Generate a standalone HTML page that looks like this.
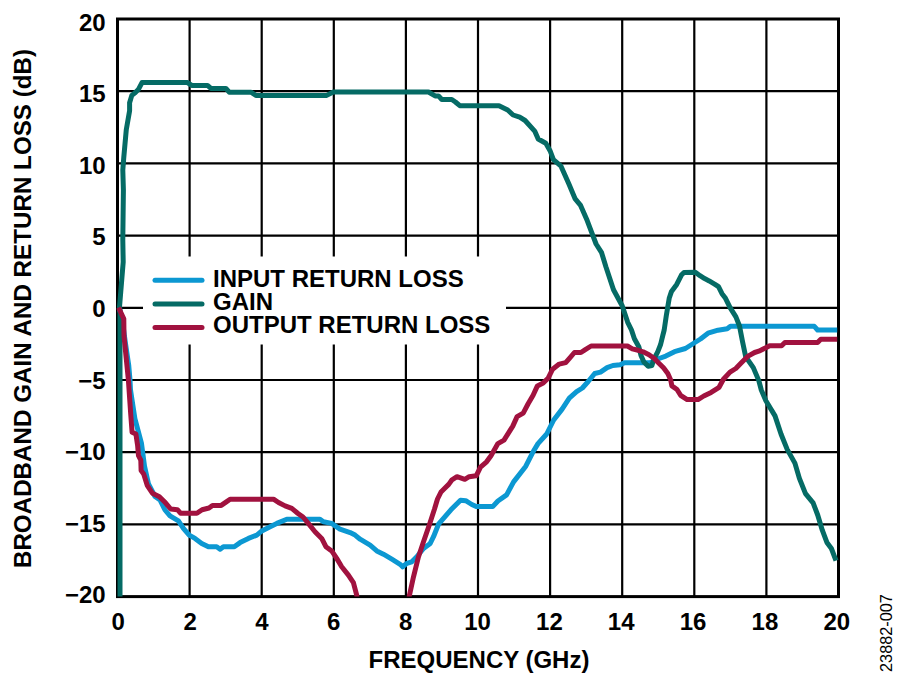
<!DOCTYPE html><html><head><meta charset="utf-8"><style>html,body{margin:0;padding:0;background:#fff;width:899px;height:689px;overflow:hidden}svg{display:block}text{font-family:"Liberation Sans",sans-serif;font-weight:bold;fill:#000}</style></head><body>
<svg width="899" height="689" viewBox="0 0 899 689">
<defs><clipPath id="pc"><rect x="116.5" y="18.0" width="723.0" height="578.6"/></clipPath></defs>
<path d="M189.6 19.0V596.6 M261.7 19.0V596.6 M333.8 19.0V596.6 M405.9 19.0V596.6 M478.0 19.0V596.6 M550.1 19.0V596.6 M622.2 19.0V596.6 M694.3 19.0V596.6 M766.4 19.0V596.6 M117.5 91.2H838.5 M117.5 163.4H838.5 M117.5 235.6H838.5 M117.5 307.8H838.5 M117.5 380.0H838.5 M117.5 452.2H838.5 M117.5 524.4H838.5" stroke="#000" stroke-width="2.2" fill="none"/>
<rect x="143" y="256.5" width="363" height="88" fill="#fff"/>
<rect x="117.5" y="19.0" width="721.0" height="577.6" stroke="#000" stroke-width="3" fill="none"/>
<path d="M119.0 308.0 L122.0 318.0 L125.5 343.5 L128.7 365.0 L130.0 380.0 L130.5 390.0 L134.9 418.7 L141.5 443.5 L144.5 466.0 L148.5 484.0 L155.0 496.5 L160.0 500.0 L165.0 510.0 L170.0 515.9 L178.4 520.9 L183.4 528.4 L189.2 535.1 L195.0 538.4 L201.7 543.4 L208.4 546.7 L216.7 546.7 L220.1 549.2 L223.4 546.7 L234.3 546.7 L240.1 542.6 L248.4 538.4 L256.8 535.1 L261.8 530.9 L270.1 526.7 L276.8 523.4 L286.8 519.2 L320.0 519.2 L323.4 521.7 L331.7 523.4 L340.0 529.2 L350.1 532.6 L355.1 535.1 L360.1 539.2 L370.1 545.1 L376.8 550.9 L383.4 554.2 L391.8 559.2 L400.1 564.3 L402.6 566.8 L406.8 563.4 L411.8 561.8 L416.8 556.7 L423.5 548.4 L430.2 543.4 L433.5 536.7 L438.5 524.2 L443.5 518.4 L450.9 509.8 L460.5 500.2 L465.7 500.7 L471.8 504.5 L476.2 506.6 L492.7 506.6 L497.9 501.0 L506.6 494.9 L513.6 481.9 L525.8 466.2 L532.8 452.3 L538.0 443.6 L546.7 434.0 L553.7 420.0 L562.1 409.1 L569.3 398.2 L576.6 391.7 L582.4 388.0 L588.2 381.5 L594.7 373.5 L600.5 372.1 L607.1 367.7 L612.9 365.5 L620.1 364.8 L624.5 362.7 L650.0 362.7 L657.7 359.0 L665.8 356.1 L674.5 351.7 L685.4 348.5 L694.1 343.0 L700.5 339.0 L708.0 333.2 L718.0 330.2 L727.2 328.8 L730.5 326.3 L814.3 326.3 L817.6 330.0 L837.2 330.0" stroke="#0c98d2" stroke-width="5" fill="none" stroke-linejoin="round" clip-path="url(#pc)" stroke-linecap="butt"/>
<path d="M120.0 600.0 L120.0 310.0 L119.5 307.0 L123.2 262.0 L122.8 240.0 L123.4 190.0 L122.8 170.0 L123.8 157.2 L126.3 129.6 L129.6 110.7 L129.6 102.7 L131.8 95.4 L135.4 92.5 L138.3 89.6 L142.0 82.6 L187.5 82.6 L191.7 85.4 L207.5 85.4 L210.9 88.4 L225.9 88.4 L229.2 92.2 L250.9 92.2 L255.9 95.4 L326.7 95.4 L333.3 92.0 L428.5 92.0 L435.1 95.9 L438.5 95.9 L441.8 99.5 L451.8 99.5 L455.4 102.0 L459.8 105.7 L499.0 105.7 L507.7 110.0 L513.1 115.0 L519.7 117.2 L525.1 120.5 L534.9 131.4 L538.2 139.0 L545.8 143.3 L550.2 151.0 L553.4 159.7 L561.0 166.2 L568.7 183.6 L575.2 198.9 L580.6 205.4 L587.2 220.6 L590.7 229.8 L596.1 244.0 L601.6 252.7 L605.9 266.8 L613.5 289.7 L622.3 306.0 L627.7 322.3 L631.5 330.0 L634.4 338.7 L638.8 346.7 L641.0 355.4 L643.9 361.9 L648.2 366.3 L651.8 365.6 L654.0 359.0 L657.7 351.8 L660.6 344.5 L662.7 335.8 L664.2 330.0 L666.3 315.7 L669.2 298.3 L671.5 291.4 L676.7 284.4 L681.4 275.1 L684.0 272.5 L695.3 272.2 L700.0 275.7 L704.6 278.6 L709.2 280.9 L715.0 284.4 L718.5 286.7 L722.0 293.7 L725.5 298.3 L730.1 307.6 L735.9 316.9 L739.5 326.0 L742.5 341.4 L745.7 356.7 L753.3 367.6 L758.8 380.6 L761.3 390.0 L765.9 400.7 L775.0 415.9 L781.1 434.2 L787.2 449.4 L794.9 463.1 L799.4 478.4 L805.5 493.6 L813.1 502.8 L817.7 515.0 L822.3 530.2 L826.9 542.4 L831.4 548.5 L836.0 560.7" stroke="#056b65" stroke-width="5" fill="none" stroke-linejoin="round" clip-path="url(#pc)" stroke-linecap="butt"/>
<path d="M118.5 307.5 L123.8 318.9 L124.0 336.0 L126.2 358.0 L128.4 380.0 L130.7 413.9 L132.1 432.2 L135.9 434.0 L137.6 445.3 L138.5 455.7 L140.8 460.1 L141.1 470.5 L143.7 474.0 L147.2 485.3 L152.4 493.2 L159.4 496.7 L165.5 502.8 L170.7 509.0 L177.4 509.7 L180.5 513.2 L196.9 513.2 L202.1 509.7 L209.0 508.0 L212.5 505.4 L221.2 505.4 L225.6 502.4 L230.1 499.2 L273.5 499.2 L278.5 502.5 L285.1 505.9 L291.8 508.4 L298.0 513.5 L303.0 517.0 L308.3 523.4 L315.0 531.7 L321.7 538.4 L325.9 546.7 L331.7 550.9 L336.7 558.4 L341.7 566.8 L348.4 575.1 L353.4 582.6 L356.7 595.1 L358.0 605.0" stroke="#a1123f" stroke-width="5" fill="none" stroke-linejoin="round" clip-path="url(#pc)" stroke-linecap="butt"/>
<path d="M408.5 605.0 L409.3 596.0 L413.5 576.8 L418.5 556.7 L423.5 541.7 L429.3 525.0 L434.5 509.0 L437.5 499.0 L441.0 492.0 L444.5 488.5 L448.7 484.4 L452.0 479.8 L457.0 476.7 L464.8 479.3 L469.2 476.7 L476.2 475.8 L480.5 467.1 L486.6 461.8 L491.0 455.7 L497.9 443.6 L504.0 440.1 L508.4 433.1 L512.8 426.1 L517.1 416.6 L523.2 413.1 L528.0 404.0 L533.1 395.3 L537.4 385.9 L543.2 383.0 L548.3 377.9 L552.6 369.2 L559.2 364.1 L565.7 362.6 L570.1 357.6 L574.4 352.5 L580.9 352.5 L585.3 349.6 L591.1 346.0 L627.4 346.0 L632.3 348.9 L638.1 350.3 L643.1 351.8 L649.0 354.7 L654.0 358.3 L658.4 362.7 L663.5 367.7 L667.8 373.5 L670.7 380.0 L671.9 385.9 L677.0 389.5 L680.6 395.3 L687.2 399.6 L698.0 399.6 L703.8 396.0 L711.1 392.4 L719.1 387.3 L723.4 379.3 L730.0 372.1 L735.8 368.5 L741.6 362.6 L748.1 356.1 L754.6 352.5 L758.8 351.2 L765.3 348.0 L769.7 345.8 L781.6 345.8 L784.9 342.5 L817.6 342.5 L820.8 339.3 L837.2 339.3" stroke="#a1123f" stroke-width="5" fill="none" stroke-linejoin="round" clip-path="url(#pc)" stroke-linecap="butt"/>
<text x="105.7" y="30.7" font-size="24" text-anchor="end">20</text>
<text x="105.7" y="102.3" font-size="24" text-anchor="end">15</text>
<text x="105.7" y="173.8" font-size="24" text-anchor="end">10</text>
<text x="105.7" y="245.4" font-size="24" text-anchor="end">5</text>
<text x="105.7" y="316.9" font-size="24" text-anchor="end">0</text>
<text x="105.7" y="388.5" font-size="24" text-anchor="end">−5</text>
<text x="105.7" y="460.1" font-size="24" text-anchor="end">−10</text>
<text x="105.7" y="531.6" font-size="24" text-anchor="end">−15</text>
<text x="105.7" y="603.2" font-size="24" text-anchor="end">−20</text>
<text x="118.2" y="630" font-size="24" text-anchor="middle">0</text>
<text x="190.1" y="630" font-size="24" text-anchor="middle">2</text>
<text x="261.9" y="630" font-size="24" text-anchor="middle">4</text>
<text x="333.8" y="630" font-size="24" text-anchor="middle">6</text>
<text x="405.6" y="630" font-size="24" text-anchor="middle">8</text>
<text x="477.5" y="630" font-size="24" text-anchor="middle">10</text>
<text x="549.4" y="630" font-size="24" text-anchor="middle">12</text>
<text x="621.2" y="630" font-size="24" text-anchor="middle">14</text>
<text x="693.1" y="630" font-size="24" text-anchor="middle">16</text>
<text x="764.9" y="630" font-size="24" text-anchor="middle">18</text>
<text x="836.8" y="630" font-size="24" text-anchor="middle">20</text>
<text x="479" y="668" font-size="24" text-anchor="middle">FREQUENCY (GHz)</text>
<text transform="translate(31 308.5) rotate(-90)" font-size="24.2" text-anchor="middle">BROADBAND GAIN AND RETURN LOSS (dB)</text>
<text transform="translate(892 633) rotate(-90)" font-size="16.3" text-anchor="middle" style="font-weight:normal">23882-007</text>
<path d="M155 280.3H202" stroke="#0c98d2" stroke-width="5" stroke-linecap="round"/>
<path d="M155 304H202" stroke="#056b65" stroke-width="5" stroke-linecap="round"/>
<path d="M155 327.6H202" stroke="#a1123f" stroke-width="5" stroke-linecap="round"/>
<text x="213" y="287" font-size="24">INPUT RETURN LOSS</text>
<text x="213" y="310" font-size="24">GAIN</text>
<text x="213" y="333" font-size="24">OUTPUT RETURN LOSS</text>
</svg></body></html>
